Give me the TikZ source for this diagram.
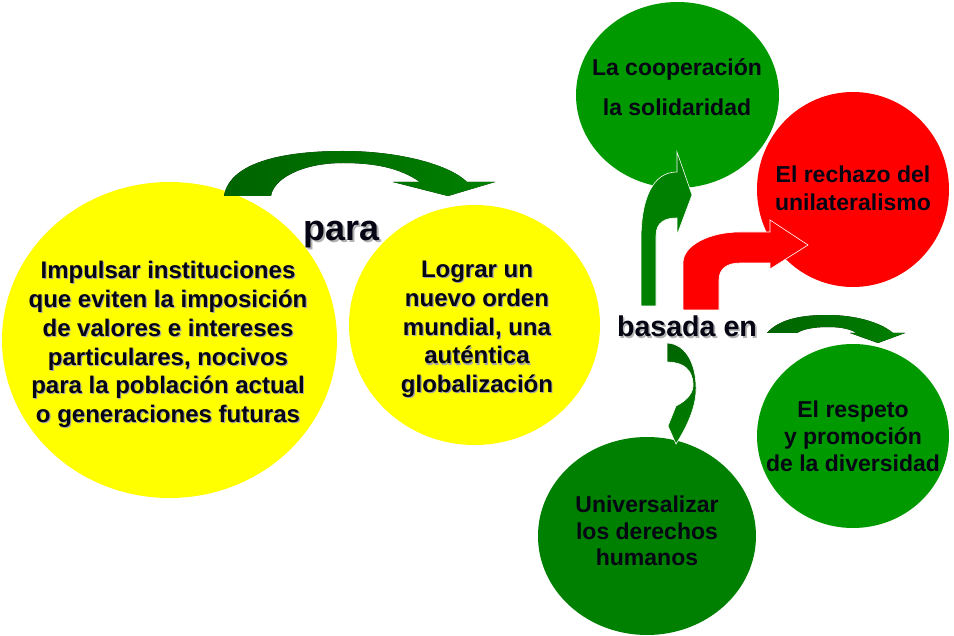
\documentclass[tikz,border=0pt]{standalone}
\usepackage{fontspec}
\setmainfont{Liberation Sans}
\usetikzlibrary{shapes.geometric}
\definecolor{ylw}{RGB}{255,255,0}
\definecolor{gA}{RGB}{0,153,0}
\definecolor{gB}{RGB}{0,128,0}
\definecolor{gD}{RGB}{0,100,0}
\definecolor{rd}{RGB}{255,0,0}
\definecolor{ink}{RGB}{5,5,20}
\newcommand\shtext[1]{\rlap{\kern1.6pt\raisebox{-1.6pt}{\color{black!30}#1}}#1}
\newcommand\sht[1]{\rlap{\kern1.1pt\raisebox{-1.1pt}{\color{black!35}#1}}#1}
\begin{document}
\begin{tikzpicture}[x=1pt,y=-1pt,
  blob/.style={ellipse, inner sep=0pt, draw=none},
  bigtxt/.style={font=\bfseries\fontsize{24}{28.8}\selectfont, align=center, inner sep=0pt, text=ink},
  smtxt/.style={font=\bfseries\fontsize{23}{27}\selectfont, align=center, inner sep=0pt, text=ink},
  lbl/.style={inner sep=0pt, anchor=base, text=ink},
  arrowshape/.style={draw=white, line width=0.6pt, line join=miter}
]
\useasboundingbox (0,0) rectangle (954,636);
% circles
\node[blob, fill=ylw, minimum width=335, minimum height=316] (c1) at (169.5,340) {};
\node[blob, fill=ylw, minimum width=251, minimum height=240] (c2) at (474.5,325) {};
\node[blob, fill=gA, minimum width=203, minimum height=186] (c3) at (677.5,95) {};
\node[blob, fill=rd, minimum width=192, minimum height=195] (c4) at (853,189.5) {};
\node[blob, fill=gA, minimum width=192, minimum height=184] (c5) at (853,436) {};
\node[blob, fill=gB, minimum width=218, minimum height=198] (c6) at (647,536) {};
% texts
\node[bigtxt] (t1) at (168,345) {\sht{Impulsar instituciones}\\\sht{que eviten la imposición}\\\sht{de valores e intereses}\\\sht{particulares, nocivos}\\\sht{para la población actual}\\\sht{o generaciones futuras}};
\node[bigtxt] (t2) at (477,330) {\sht{Lograr un}\\\sht{nuevo orden}\\\sht{mundial, una}\\\sht{auténtica}\\\sht{globalización}};
\node[smtxt, font=\bfseries\fontsize{23}{40}\selectfont] (t3) at (677,87) {La cooperación\\la solidaridad};
\node[smtxt, font=\bfseries\fontsize{23}{28}\selectfont] (t4) at (853,188) {El rechazo del\\unilateralismo};
\node[smtxt] (t5) at (853,436) {El respeto\\y promoción\\de la diversidad};
\node[smtxt, font=\bfseries\fontsize{23}{26.5}\selectfont] (t6) at (647,531) {Universalizar\\los derechos\\humanos};
\node[lbl, font=\bfseries\fontsize{36}{40}\selectfont] (para) at (341.5,241) {\shtext{para}};
\node[lbl, font=\bfseries\fontsize{28.6}{32}\selectfont] (basada) at (687,337) {\shtext{basada en}};
% arrow: para
\fill[left color=gD, right color=gB]
  (224,196) .. controls (230,160) and (290,151) .. (343,151)
  .. controls (400,151) and (450,165) .. (467,182)
  -- (495,182) -- (448,196) -- (393,182) -- (420,182)
  .. controls (400,168) and (375,163) .. (343,163)
  .. controls (300,163) and (273,180) .. (271,196) -- cycle;
% arrow: up to cooperation
\path[arrowshape, fill=gB]
  (641,306) -- (641,240) .. controls (641,200) and (652,172) .. (677,172)
  -- (677,152) -- (692,195) -- (677,235) -- (677,218)
  .. controls (665,218) and (656,222) .. (656,236) -- (656,306) -- cycle;
% arrow: red
\path[arrowshape, fill=rd]
  (683,310) -- (683,263) .. controls (683,245) and (710,232) .. (740,232)
  -- (770,232) -- (770,220) -- (808,245) -- (770,269) -- (770,263) -- (740,263)
  .. controls (728,263) and (719,268) .. (719,280) -- (719,310) -- cycle;
% arrow: right to respeto
\fill[left color=gD, right color=gB]
  (767,333) .. controls (780,318) and (805,315) .. (827,315)
  .. controls (855,315) and (880,322) .. (893,333)
  -- (905,333) -- (878,343) -- (850,333) -- (857,333)
  .. controls (848,328) and (838,327) .. (827,327)
  .. controls (815,327) and (803,329) .. (797,333) -- cycle;
% arrow: down to universalizar
\path[arrowshape, top color=gD, bottom color=gB]
  (667,343) .. controls (688,344) and (697,368) .. (696,392)
  .. controls (695,408) and (688,425) .. (676,444)
  -- (668,426) -- (676,406)
  .. controls (688,400) and (694,392) .. (693,383)
  .. controls (692,370) and (684,362) .. (667,362) -- cycle;
\end{tikzpicture}
\end{document}
